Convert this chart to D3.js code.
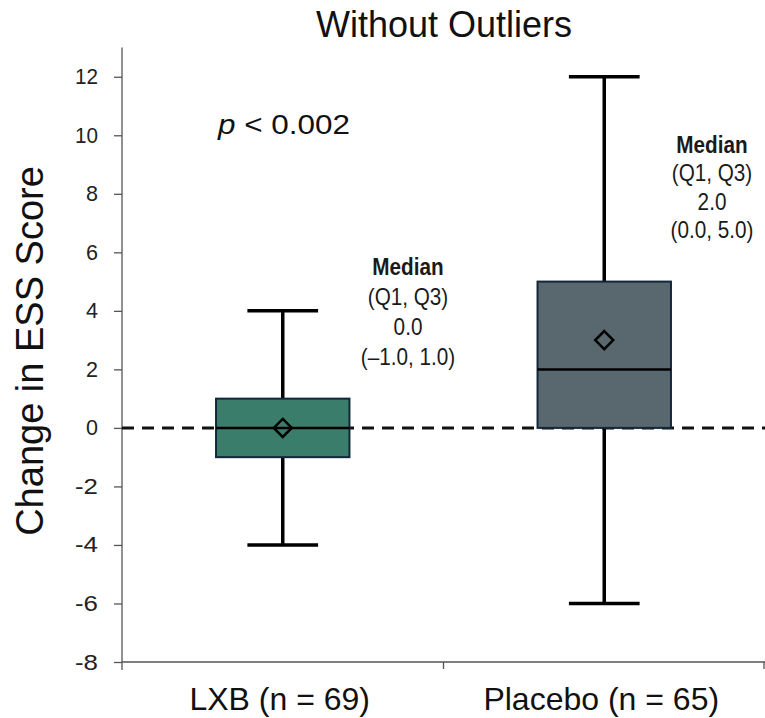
<!DOCTYPE html>
<html>
<head>
<meta charset="utf-8">
<script src="https://cdn.jsdelivr.net/npm/d3@7"></script>
<style>
  html, body { margin: 0; padding: 0; background: #fff; }
  svg { display: block; }
</style>
</head>
<body>
<svg id="chart" width="765" height="718"></svg>
<script>
// Groups and their five-number summaries (change in ESS score)
const groups = ["LXB (n = 69)", "Placebo (n = 65)"];
const whiskerLow = [-4, -6];
const q1 = [-1, 0];
const median = [0, 2];
const q3 = [1, 5];
const whiskerHigh = [4, 12];
const mean = [0, 3];
const fills = ["#3b7d6b", "#59676f"];

// Text placed next to each box
const summaryLines = [
  ["Median", "(Q1, Q3)", "0.0", "(\u20131.0, 1.0)"],
  ["Median", "(Q1, Q3)", "2.0", "(0.0, 5.0)"]
];
const yTicks = [12, 10, 8, 6, 4, 2, 0, -2, -4, -6, -8];

const svg = d3.select("#chart");
const margin = { left: 122, right: 0 };
const W = 765;

const x = d3.scaleBand().domain(groups).range([margin.left, W - margin.right]).paddingInner(0).paddingOuter(0);
const y = d3.scaleLinear().domain([-8, 13]).range([662, 47.5]);

const sans = "'Liberation Sans', Arial, Helvetica, sans-serif";

// Y axis
const yAxis = svg.append("g")
  .attr("transform", `translate(${margin.left},0)`)
  .call(d3.axisLeft(y).tickValues(yTicks).tickSize(8).tickPadding(16).tickFormat(d => String(d)));
yAxis.select(".domain").attr("stroke", "#555").attr("stroke-width", 1.3).attr("d", `M0,${y(13)}V${y(-8) + 8}`);
yAxis.selectAll(".tick line").attr("stroke", "#555").attr("stroke-width", 1.3);
yAxis.selectAll(".tick text")
  .attr("font-family", sans).attr("font-size", 22).attr("fill", "#222")
  .attr("textLength", d => String(d).length === 1 ? 12 : 23)
  .attr("lengthAdjust", "spacingAndGlyphs");

// X axis with ticks at the category boundaries
const xAxisG = svg.append("g").attr("transform", `translate(0,${y(-8)})`);
xAxisG.append("line")
  .attr("x1", margin.left).attr("x2", W)
  .attr("stroke", "#555").attr("stroke-width", 1.3);
const boundaries = [x(groups[1]), W - 1];
xAxisG.selectAll("line.tk").data(boundaries).join("line")
  .attr("class", "tk")
  .attr("x1", d => d).attr("x2", d => d)
  .attr("y1", 0).attr("y2", 7)
  .attr("stroke", "#555").attr("stroke-width", 1.3);
xAxisG.selectAll("text").data(groups).join("text")
  .attr("x", d => x(d) + x.bandwidth() / 2 - 3)
  .attr("y", 48)
  .attr("text-anchor", "middle")
  .attr("font-family", sans).attr("font-size", 32).attr("fill", "#111")
  .text(d => d);

// Reference line at zero
svg.append("line")
  .attr("x1", margin.left).attr("x2", W)
  .attr("y1", y(0)).attr("y2", y(0))
  .attr("stroke", "#111").attr("stroke-width", 3)
  .attr("stroke-dasharray", "12,8");

// Box plots
const boxW = x.bandwidth() * 0.415;
const capW = x.bandwidth() * 0.22;
groups.forEach((g, i) => {
  const cx = x(g) + x.bandwidth() / 2;
  const grp = svg.append("g");
  // whiskers
  grp.append("line").attr("x1", cx).attr("x2", cx).attr("y1", y(q3[i])).attr("y2", y(whiskerHigh[i]))
    .attr("stroke", "#000").attr("stroke-width", 3.5);
  grp.append("line").attr("x1", cx).attr("x2", cx).attr("y1", y(q1[i])).attr("y2", y(whiskerLow[i]))
    .attr("stroke", "#000").attr("stroke-width", 3.5);
  [whiskerHigh[i], whiskerLow[i]].forEach(v => {
    grp.append("line").attr("x1", cx - capW / 2).attr("x2", cx + capW / 2).attr("y1", y(v)).attr("y2", y(v))
      .attr("stroke", "#000").attr("stroke-width", 3.5);
  });
  // box
  grp.append("rect")
    .attr("x", cx - boxW / 2).attr("width", boxW)
    .attr("y", y(q3[i])).attr("height", y(q1[i]) - y(q3[i]))
    .attr("fill", fills[i]).attr("stroke", "#13263a").attr("stroke-width", 2);
  // median
  grp.append("line").attr("x1", cx - boxW / 2).attr("x2", cx + boxW / 2).attr("y1", y(median[i])).attr("y2", y(median[i]))
    .attr("stroke", "#000").attr("stroke-width", 2.5);
  // mean diamond
  const my = y(mean[i]), r = 9;
  grp.append("path")
    .attr("d", `M${cx},${my - r}L${cx + r},${my}L${cx},${my + r}L${cx - r},${my}Z`)
    .attr("fill", "none").attr("stroke", "#000").attr("stroke-width", 2.5);
});

// Summary text beside each box (slightly condensed)
const summaryPos = [
  { x: 408, y: 275, dy: 30 },
  { x: 712, y: 153, dy: 28.5 }
];
summaryLines.forEach((lines, i) => {
  const t = svg.append("g")
    .attr("transform", `translate(${summaryPos[i].x},${summaryPos[i].y}) scale(0.9,1)`)
    .append("text")
    .attr("text-anchor", "middle")
    .attr("font-family", sans).attr("font-size", 23).attr("fill", "#1a1a1a");
  lines.forEach((ln, j) => {
    t.append("tspan").attr("x", 0).attr("y", j * summaryPos[i].dy)
      .attr("font-weight", j === 0 ? "bold" : "normal")
      .text(ln);
  });
});

// p-value
const pText = svg.append("text")
  .attr("x", 218).attr("y", 134)
  .attr("font-family", sans).attr("font-size", 27).attr("fill", "#111")
  .attr("textLength", 132).attr("lengthAdjust", "spacingAndGlyphs");
pText.append("tspan").attr("font-style", "italic").text("p");
pText.append("tspan").text(" < 0.002");

// Title
svg.append("text")
  .attr("x", 444).attr("y", 37)
  .attr("text-anchor", "middle")
  .attr("font-family", sans).attr("font-size", 36).attr("fill", "#111")
  .text("Without Outliers");

// Y axis title
svg.append("text")
  .attr("transform", `translate(43,351) rotate(-90)`)
  .attr("text-anchor", "middle")
  .attr("font-family", sans).attr("font-size", 38).attr("fill", "#111")
  .text("Change in ESS Score");
</script>
</body>
</html>
